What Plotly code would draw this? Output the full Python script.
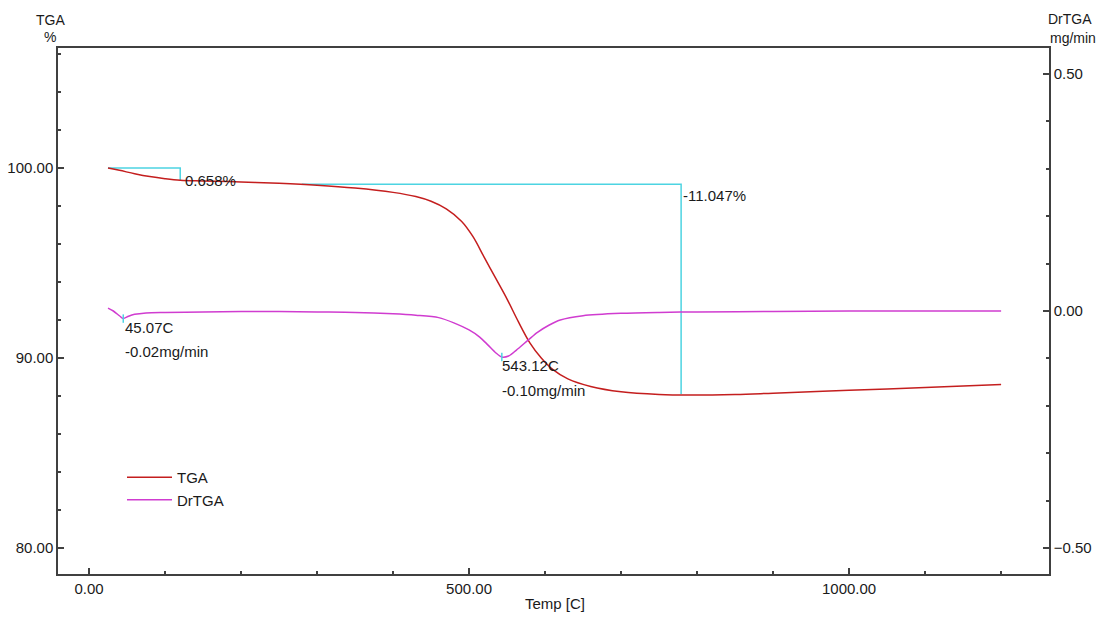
import plotly.graph_objects as go

# ---- data ----
temp = [25, 40, 60, 80, 100, 120, 150, 200, 250, 300, 350, 400, 430, 450, 470, 490,
        505, 520, 535, 550, 565, 580, 595, 610, 630, 660, 700, 750, 790, 850, 900,
        1000, 1100, 1200]
tga = [100.0, 99.88, 99.7, 99.55, 99.44, 99.36, 99.32, 99.27, 99.2, 99.1, 98.95, 98.72,
       98.5, 98.25, 97.85, 97.2, 96.4, 95.3, 94.2, 93.1, 91.9, 90.8, 90.0, 89.4, 88.9,
       88.5, 88.22, 88.08, 88.05, 88.08, 88.15, 88.3, 88.45, 88.6]

dtg_temp = [25, 32, 40, 45, 52, 60, 75, 100, 150, 200, 250, 300, 350, 400, 430, 460,
            480, 500, 514, 525, 535, 543, 552, 562, 578, 590, 605, 620, 650, 700, 750,
            800, 900, 1000, 1100, 1200]
dtg = [0.006, 0.0, -0.01, -0.016, -0.011, -0.007, -0.004, -0.003, -0.002, -0.001,
       -0.001, -0.002, -0.003, -0.006, -0.009, -0.014, -0.025, -0.04, -0.055, -0.072,
       -0.088, -0.097, -0.095, -0.083, -0.061, -0.045, -0.03, -0.019, -0.01, -0.005,
       -0.003, -0.002, -0.001, 0.0, 0.0, 0.0]

step1_x = [25, 120, 120]
step1_y = [100.0, 100.0, 99.342]
step2_x = [280, 779, 779]
step2_y = [99.15, 99.15, 88.10]

peaks_x = [45.07, 543.12]
peaks_y = [-0.016, -0.097]

labels = ["0.658%", "-11.047%", "45.07C", "-0.02mg/min", "543.12C", "-0.10mg/min"]

RED = "#c41e1e"
MAG = "#d03cd0"
CYAN = "#4dd4e2"
FONT = "Liberation Sans, Arial, sans-serif"
TXT = "#1a1a1a"
AX = "#404040"

W, H = 1104, 617
L, R, T, B = 58, 1049, 48, 574
PW, PH = R - L, B - T

fig = go.Figure()
for sx, sy in [(step1_x, step1_y), (step2_x, step2_y)]:
    fig.add_trace(go.Scatter(x=sx, y=sy, mode="lines", line=dict(color=CYAN, width=1.5),
                             showlegend=False, hoverinfo="skip"))
fig.add_trace(go.Scatter(x=temp, y=tga, mode="lines", name="TGA",
                         line=dict(color=RED, width=1.5, shape="spline", smoothing=1.0)))
fig.add_trace(go.Scatter(x=dtg_temp, y=dtg, mode="lines", name="DrTGA", yaxis="y2",
                         line=dict(color=MAG, width=1.5, shape="spline", smoothing=0.8)))
fig.add_trace(go.Scatter(x=peaks_x, y=peaks_y, mode="markers", yaxis="y2", showlegend=False,
                         marker=dict(symbol="line-ns", size=6, line=dict(color=CYAN, width=1.5)),
                         hoverinfo="skip"))

ann = [
    dict(x=124, y=99.37, yref="y", text=labels[0]),
    dict(x=779, y=98.53, yref="y", text=labels[1]),
    dict(x=45, y=-0.034, yref="y2", text=labels[2]),
    dict(x=45, y=-0.086, yref="y2", text=labels[3]),
    dict(x=541, y=-0.114, yref="y2", text=labels[4]),
    dict(x=541, y=-0.167, yref="y2", text=labels[5]),
]
for a in ann:
    fig.add_annotation(xref="x", showarrow=False, xanchor="left", yanchor="middle",
                       font=dict(size=15, color=TXT, family=FONT), **a)

# axis unit titles and x title
for x, y, t in [(50, 20, "TGA"), (50, 37, "%"), (1070, 19, "DrTGA"), (1073, 38, "mg/min"),
                (555, 603, "Temp [C]")]:
    fig.add_annotation(xref="paper", yref="paper", x=(x - L) / PW, y=1 - (y - T) / PH,
                       text=t, showarrow=False, xanchor="center", yanchor="middle",
                       font=dict(size=15 if t == "Temp [C]" else 14, color=TXT, family=FONT))

common = dict(showgrid=False, zeroline=False, showline=True, linecolor=AX, linewidth=1.5,
              ticks="inside", ticklen=6, tickcolor=AX, tickwidth=1.5, automargin=False,
              tickfont=dict(size=15, color=TXT, family=FONT))

fig.update_layout(
    width=W, height=H,
    margin=dict(l=L, r=W - R, t=T, b=H - B),
    paper_bgcolor="white", plot_bgcolor="white",
    font=dict(family=FONT, color=TXT, size=15),
    xaxis=dict(range=[-40.8, 1263], dtick=500, tick0=0, tickformat=".2f", mirror=True,
               minor=dict(dtick=100, ticks="inside", ticklen=3, tickcolor=AX, tickwidth=1.5),
               **common),
    yaxis=dict(range=[78.63, 106.32], dtick=10, tick0=0, tickformat=".2f",
               minor=dict(dtick=2, ticks="inside", ticklen=3, tickcolor=AX, tickwidth=1.5),
               **common),
    yaxis2=dict(range=[-0.555, 0.555], dtick=0.5, tick0=0, tickformat=".2f", overlaying="y",
                side="right",
                minor=dict(dtick=0.1, ticks="inside", ticklen=3, tickcolor=AX, tickwidth=1.5),
                **common),
    legend=dict(x=(122 - L) / PW, y=1 - (461 - T) / PH, xanchor="left", yanchor="top",
                bgcolor="rgba(0,0,0,0)", font=dict(size=15, family=FONT, color=TXT),
                itemwidth=45, tracegroupgap=0),
    showlegend=True,
)

fig.write_html("out.html", config={"displayModeBar": False},
               post_script="document.body.style.margin='0';document.body.style.overflow='hidden';")
